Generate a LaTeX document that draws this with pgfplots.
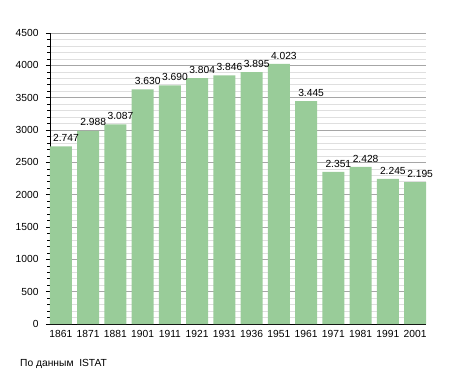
\documentclass[border=0pt]{standalone}
\usepackage{fontspec}
\setmainfont{Liberation Sans}
\usepackage{pgfplots}
\pgfplotsset{compat=1.18}
\definecolor{bargreen}{HTML}{99CC99}
\begin{document}
\begin{tikzpicture}
\path[use as bounding box] (-50bp,-49bp) rectangle (405bp,324bp);
\begin{axis}[
  at={(0,0)}, anchor=south west,
  scale only axis, width=376bp, height=291bp,
  xmin=-0.4, xmax=13.4, ymin=0, ymax=4500,
  axis x line*=bottom, axis y line*=left,
  axis line style={black, line width=0.8pt},
  xtick={0,...,13},
  xticklabels={1861,1871,1881,1901,1911,1921,1931,1936,1951,1961,1971,1981,1991,2001},
  x tick style={draw=none},
  ytick={0,500,...,4500},
  minor y tick num=4,
  tick align=outside,
  y tick style={black, line width=0.6pt},
  major tick length=4bp, minor tick length=2.5bp,
  ymajorgrids, yminorgrids,
  major grid style={gray!70, line width=0.5pt},
  minor grid style={gray!25, line width=0.5pt},
  ticklabel style={font=\fontsize{10.3}{12}\selectfont},
  /pgf/number format/assume math mode=true,
  yticklabel style={/pgf/number format/1000 sep={}, xshift=-4bp},
  xticklabel style={yshift=1bp},
  ybar, bar width=0.8,
  nodes near coords,
  nodes near coords style={font=\fontsize{10.3}{12}\selectfont, /pgf/number format/1000 sep={.}, /pgf/number format/assume math mode=true, inner sep=1.5bp, xshift=5bp, yshift=3bp},
  clip=false,
]
\addplot[fill=bargreen, draw=none] coordinates {
(0,2747) (1,2988) (2,3087) (3,3630) (4,3690) (5,3804) (6,3846) (7,3895) (8,4023) (9,3445) (10,2351) (11,2428) (12,2245) (13,2195)};
\end{axis}
\node[anchor=base west, font=\fontsize{10.3}{12}\selectfont, inner sep=0pt] at (-30bp,-42bp) {По данным\ \ ISTAT};
\end{tikzpicture}
\end{document}
